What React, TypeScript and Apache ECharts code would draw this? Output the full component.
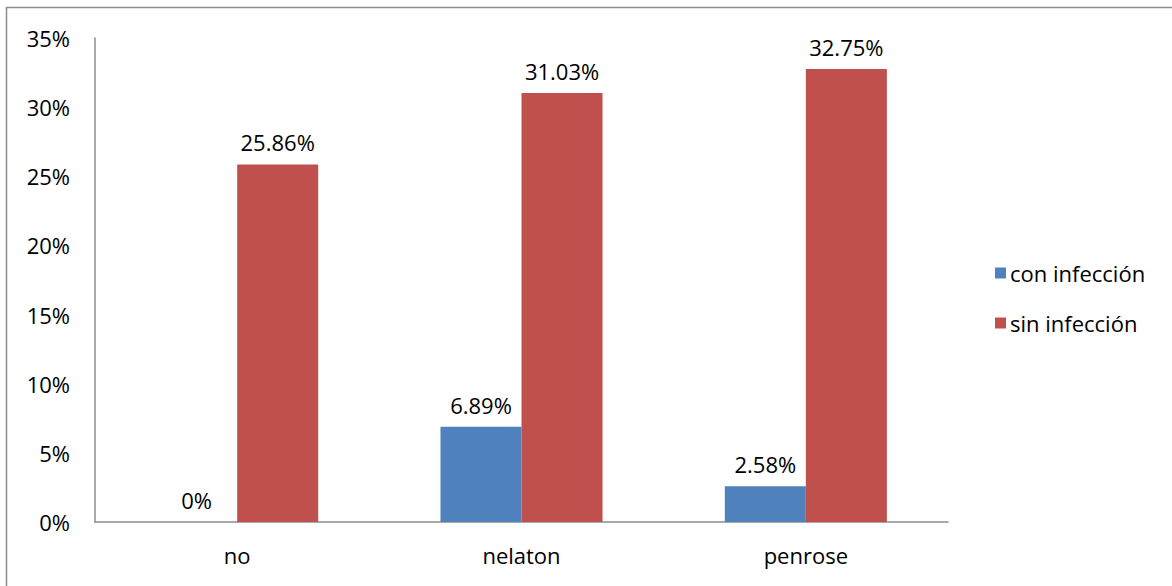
import React, { useEffect, useRef } from "react";
import * as echarts from "echarts";

const categories = ["no", "nelaton", "penrose"];
const conInfeccion = [0, 6.89, 2.58];
const sinInfeccion = [25.86, 31.03, 32.75];
const seriesNames = ["con infección", "sin infección"];

const FONT = "'Open Sans', 'Noto Sans', sans-serif";
const FS = 22;

export default function App() {
  const ref = useRef<HTMLDivElement>(null);
  useEffect(() => {
    document.body.style.margin = "0";
    const chart = echarts.init(ref.current!, null, { renderer: "svg" });
    const label = {
      show: true,
      position: "top" as const,
      distance: 11,
      color: "#000",
      fontSize: FS,
      fontFamily: FONT,
      formatter: (p: any) => `${p.value}%`,
    };
    chart.setOption({
      animation: false,
      backgroundColor: "#fff",
      textStyle: { fontFamily: FONT },
      grid: { left: 95, right: 224, top: 38, bottom: 64, containLabel: false },
      legend: {
        orient: "vertical",
        left: 990,
        top: 257,
        itemWidth: 11,
        itemHeight: 11,
        itemGap: 28,
        icon: "rect",
        textStyle: { fontSize: FS, color: "#000", fontFamily: FONT, padding: [0, 0, 0, -1] },
        data: seriesNames,
      },
      xAxis: {
        type: "category",
        data: categories,
        axisLine: { lineStyle: { color: "#8c8c8c", width: 1.5 } },
        axisTick: { show: false },
        axisLabel: { fontSize: FS, color: "#000", margin: 22, fontFamily: FONT },
      },
      yAxis: {
        type: "value",
        min: 0,
        max: 35,
        interval: 5,
        splitLine: { show: false },
        axisLine: { show: true, lineStyle: { color: "#8c8c8c", width: 1.5 } },
        axisTick: { show: false },
        axisLabel: {
          fontSize: FS,
          color: "#000",
          margin: 25,
          fontFamily: FONT,
          formatter: (v: number) => `${v}%`,
        },
      },
      series: [
        {
          name: seriesNames[0],
          type: "bar",
          data: conInfeccion,
          itemStyle: { color: "#4F81BD" },
          barGap: "0%",
          barCategoryGap: "43%",
          label,
        },
        {
          name: seriesNames[1],
          type: "bar",
          data: sinInfeccion,
          itemStyle: { color: "#C0504D" },
          barGap: "0%",
          barCategoryGap: "43%",
          label,
        },
      ],
      graphic: [
        {
          type: "rect",
          shape: { x: 6.5, y: 7.5, width: 1300, height: 700 },
          style: { fill: "none", stroke: "#8c8c8c", lineWidth: 1.5 },
          silent: true,
          z: 100,
        },
      ],
    });
    return () => chart.dispose();
  }, []);
  return <div ref={ref} style={{ width: 1172, height: 586 }} />;
}
